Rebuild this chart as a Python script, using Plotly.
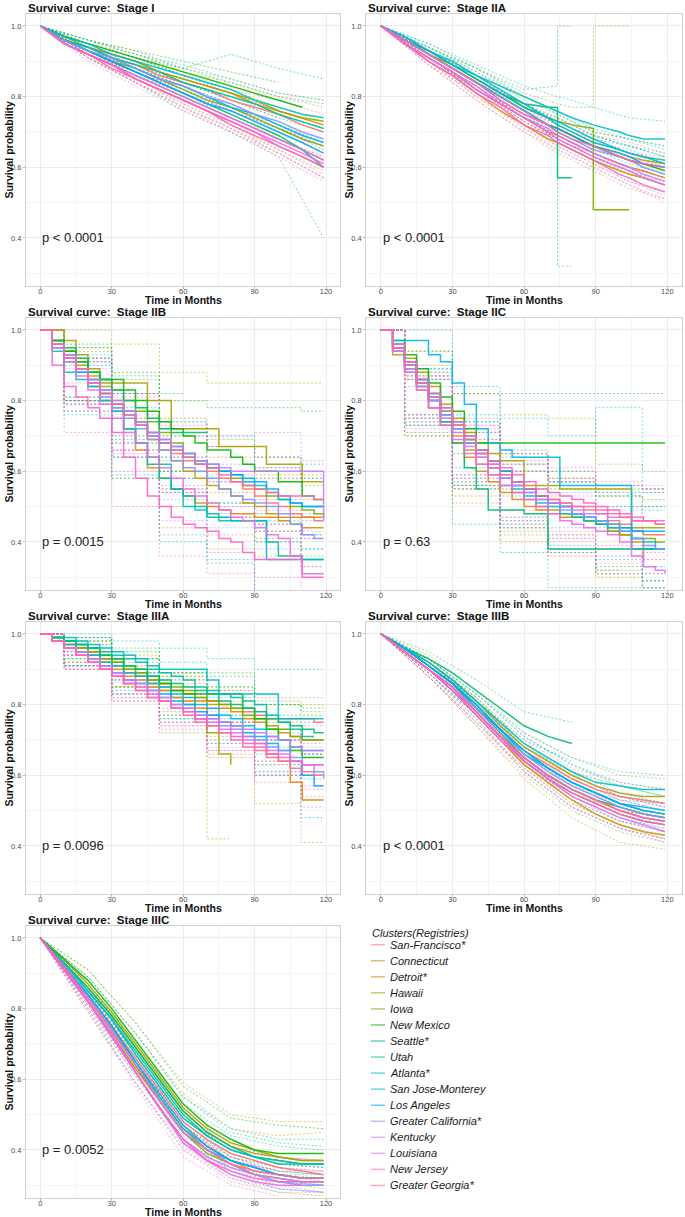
import plotly.graph_objects as go

# ---------------- data ----------------
clusters = ["San-Francisco*", "Connecticut", "Detroit*", "Hawaii", "Iowa", "New Mexico",
            "Seattle*", "Utah", "Atlanta*", "San Jose-Monterey", "Los Angeles",
            "Greater California*", "Kentucky", "Louisiana", "New Jersey", "Greater Georgia*"]
colors = ["#F8766D", "#E68613", "#CD9600", "#ABA300", "#7CAE00", "#0CB702", "#00BE67", "#00C19A",
          "#00BFC4", "#00B8E7", "#00A9FF", "#8494FF", "#C77CFF", "#ED68ED", "#FF61CC", "#FF68A1"]
stages = ["Stage I", "Stage IIA", "Stage IIB", "Stage IIC", "Stage IIIA", "Stage IIIB", "Stage IIIC"]
p_values = ["p < 0.0001", "p < 0.0001", "p = 0.0015", "p = 0.63", "p = 0.0096", "p < 0.0001", "p = 0.0052"]
x_ticks = [0, 30, 60, 90, 120]
y_ticks = [0.4, 0.6, 0.8, 1.0]

# time grids (months)
t_std = [0, 10, 20, 30, 40, 50, 60, 70, 80, 90, 100, 110, 119]
t_fine = [0, 5, 10, 15, 20, 25, 30, 35, 40, 45, 50, 55, 60, 65, 70, 75, 80, 85, 90, 95, 100, 105, 110, 115, 119]
t_ci = [0, 20, 40, 60, 80, 100, 119]
t_IIA = [0, 10, 20, 30, 40, 50, 60, 70, 74, 74, 80, 89, 89, 100, 104, 110, 119]
t_ci_IIA = [0, 20, 40, 60, 74, 74, 80, 89, 89, 104, 119]

# survival probability (%) per cluster
surv_I = [
    [100, 96, 94, 91, 89, 86, 84, 82, 79, 77, 75, 72, 70],
    [100, 95, 92, 89, 86, 83, 80, 77, 74, 71, 68, 65, 62],
    [100, 96, 94, 92, 90, 87, 85, 83, 81, 78, 76, 74, 72],
    [100, 97, 94, 92, 90, 87, 85, 83, 81, 79, 76, 74, 73],
    [100, 96, 93, 90, 88, 85, 82, 79, 77, 74, 71, 68, 66],
    [100, 97, 95, 93, 91, 89, 87, 85, 83, 81, 79, 77, None],
    [100, 96, 93, 90, 87, 84, 81, 78, 75, 72, 69, 65, 60],
    [100, 96, 94, 91, 89, 87, 84, 82, 80, 78, 75, 73, 71],
    [100, 97, 95, 92, 90, 88, 86, 84, 82, 79, 77, 75, 74],
    [100, 96, 94, 91, 88, 85, 83, 80, 77, 75, 72, 69, 67],
    [100, 96, 93, 90, 87, 84, 81, 78, 76, 73, 70, 67, 64],
    [100, 96, 93, 91, 88, 85, 83, 80, 78, 75, 73, 70, 68],
    [100, 95, 92, 89, 86, 83, 80, 77, 74, 71, 68, 65, 62],
    [100, 95, 92, 89, 85, 82, 79, 76, 73, 70, 67, 64, 61],
    [100, 95, 92, 89, 85, 82, 79, 76, 73, 70, 66, 63, 60],
    [100, 95, 92, 88, 85, 82, 79, 76, 72, 69, 66, 63, 60],
]
lo_I = [
    [100, 93, 87, 82, 76, 71, 65], [100, 91, 84, 77, 71, 64, 57], [100, 93, 88, 83, 78, 72, 67],
    [100, 92, 87, 82, 77, 71, 67], [100, 91, 85, 78, 72, 65, 59], [100, 93, 89, 84, 79, 74, None],
    [100, 91, 84, 76, 70, 63, 40], [100, 92, 87, 81, 76, 70, 64], [100, 94, 88, 84, 79, 74, 70],
    [100, 92, 86, 80, 74, 68, 62], [100, 92, 86, 80, 74, 68, 62], [100, 92, 87, 81, 76, 71, 65],
    [100, 91, 84, 78, 71, 65, 58], [100, 90, 83, 76, 70, 63, 56], [100, 91, 84, 77, 71, 64, 57],
    [100, 91, 84, 77, 70, 64, 57],
]
hi_I = [
    [100, 95, 91, 86, 82, 79, 75], [100, 93, 88, 83, 77, 72, 67], [100, 95, 92, 87, 84, 80, 77],
    [100, 96, 93, 88, 85, 81, 79], [100, 95, 91, 86, 82, 77, 73], [100, 96, 93, 90, 87, 84, None],
    [100, 95, 91, 88, 92, 88, 85], [100, 96, 92, 88, 84, 80, 78], [100, 96, 92, 89, 85, 81, 79],
    [100, 95, 91, 86, 81, 76, 72], [100, 94, 88, 83, 78, 72, 67], [100, 94, 89, 84, 80, 75, 71],
    [100, 93, 88, 82, 77, 71, 66], [100, 94, 87, 82, 76, 71, 66], [100, 93, 86, 81, 75, 68, 63],
    [100, 93, 86, 81, 74, 68, 63],
]

surv_IIA = [
    [100, 96, 92, 88, 84, 79, 75, 72, 71, 71, 69, 66, 66, 63, 62, 61, 60],
    [100, 95, 91, 87, 82, 78, 74, 70, 69, 69, 67, 64, 64, 61, 60, 59, 57],
    [100, 95, 90, 86, 81, 76, 72, 68, 67, 67, 65, 62, 62, 59, 58, 57, 55],
    [100, 96, 92, 88, 84, 80, 76, 72, 71, 71, 69, 66, 66, 64, 63, 62, 61],
    [100, 96, 92, 89, 85, 81, 77, 74, 73, 73, 72, 71, 48, 48, 48, None, None],
    [100, 96, 92, 88, 84, 80, 76, 72, 71, 71, 69, 66, 66, 63, 62, 61, 59],
    [100, 96, 93, 89, 85, 81, 78, 77, 77, 57, 57, None, None, None, None, None, None],
    [100, 96, 93, 89, 85, 81, 77, 74, 72, 72, 70, 67, 67, 65, 64, 63, 62],
    [100, 97, 93, 90, 86, 83, 80, 77, 76, 76, 74, 72, 72, 70, 69, 68, 68],
    [100, 97, 93, 89, 86, 82, 78, 74, 73, 73, 71, 68, 68, 65, 64, 63, 61],
    [100, 96, 92, 88, 84, 80, 76, 72, 71, 71, 69, 66, 66, 64, 63, 61, 60],
    [100, 96, 92, 88, 84, 80, 76, 72, 70, 70, 68, 65, 65, 63, 62, 60, 58],
    [100, 95, 91, 87, 83, 78, 74, 71, 69, 69, 67, 64, 64, 61, 60, 58, 56],
    [100, 95, 91, 87, 82, 78, 74, 70, 68, 68, 66, 63, 63, 60, 59, 57, 55],
    [100, 95, 90, 86, 81, 77, 72, 69, 67, 67, 65, 62, 62, 58, 57, 55, 53],
    [100, 96, 92, 88, 84, 79, 75, 72, 70, 70, 68, 66, 66, 63, 62, 61, 60],
]
lo_IIA = [
    [100, 91, 82, 73, 68, 68, 66, 63, 63, 59, 56], [100, 90, 80, 72, 66, 66, 64, 61, 61, 56, 53],
    [100, 89, 79, 70, 64, 64, 62, 59, 59, 54, 51], [100, 90, 81, 73, 67, 67, 65, 62, 62, 58, 56],
    [100, 90, 82, 73, 68, 68, 66, 65, None, None, None], [100, 91, 82, 74, 68, 68, 66, 63, 63, 58, 55],
    [100, 91, 82, 74, 71, 32, 32, None, None, None, None], [100, 91, 83, 74, 69, 69, 67, 64, 64, 60, 57],
    [100, 92, 84, 78, 73, 73, 71, 69, 69, 66, 64], [100, 92, 84, 76, 70, 70, 68, 65, 65, 61, 58],
    [100, 91, 83, 74, 69, 69, 67, 64, 64, 60, 57], [100, 91, 83, 74, 68, 68, 66, 63, 63, 59, 55],
    [100, 89, 81, 71, 66, 66, 64, 61, 61, 56, 52], [100, 90, 80, 71, 65, 65, 63, 60, 60, 55, 50],
    [100, 89, 79, 70, 65, 65, 63, 60, 60, 55, 51], [100, 91, 82, 73, 68, 68, 66, 64, 64, 60, 57],
]
hi_IIA = [
    [100, 93, 86, 77, 74, 74, 72, 69, 69, 67, 64], [100, 92, 84, 76, 72, 72, 70, 67, 67, 64, 61],
    [100, 91, 83, 74, 70, 70, 68, 65, 65, 62, 59], [100, 94, 87, 79, 75, 75, 73, 70, 70, 68, 66],
    [100, 94, 88, 81, 78, 78, 77, 77, 100, 100, None], [100, 93, 86, 78, 74, 74, 72, 69, 69, 66, 63],
    [100, 95, 88, 82, 83, 100, 100, None, None, None, None], [100, 94, 87, 80, 75, 75, 73, 70, 70, 68, 66],
    [100, 95, 89, 83, 80, 80, 79, 77, 77, 74, 73], [100, 94, 88, 80, 76, 76, 74, 71, 71, 68, 65],
    [100, 93, 85, 78, 73, 73, 71, 68, 68, 66, 63], [100, 93, 85, 78, 72, 72, 70, 67, 67, 65, 61],
    [100, 93, 85, 77, 72, 72, 70, 67, 67, 64, 60], [100, 92, 84, 77, 71, 71, 69, 66, 66, 63, 60],
    [100, 91, 83, 74, 69, 69, 67, 64, 64, 59, 55], [100, 93, 86, 77, 72, 72, 70, 68, 68, 64, 63],
]

surv_IIB = [
    [100, 95, 92, 89, 86, 82, 79, 77, 74, 71, 68, 65, 63, 62, 60, 58, 57, 55, 53, 51, 50, 48, 47, 46, 46],
    [100, 96, 93, 89, 86, 82, 78, 72, 66, 61, 58, 55, 53, 51, 50, 49, 48, 48, 47, 47, 47, 47, 47, 47, 47],
    [100, 97, 94, 90, 87, 84, 80, 76, 73, 69, 66, 63, 60, 58, 56, 55, 53, 51, 50, 48, 46, 45, 44, 44, 44],
    [100, 100, 97, 93, 89, 85, 85, 85, 85, 80, 80, 72, 72, 72, 72, 67, 67, 67, 67, 62, 62, 62, 57, 57, 57],
    [100, 97, 94, 91, 88, 86, 83, 80, 77, 74, 71, 68, 65, 63, 61, 60, 58, 56, 55, 53, 52, 50, 49, 48, 47],
    [100, 97, 94, 91, 88, 86, 86, 83, 80, 77, 74, 72, 70, 68, 66, 66, 64, 62, 60, 60, 57, 57, 53, 52, 52],
    [100, 97, 95, 92, 88, 86, 83, 80, 78, 75, 72, 71, 71, 71, 71, None, None, None, None, None, None, None, None, None, None],
    [100, 95, 91, 88, 84, 80, 77, 72, 68, 62, 58, 55, 53, 50, 48, 47, 46, 46, 46, 40, 36, 36, 35, 35, 35],
    [100, 94, 88, 86, 84, 80, 77, 72, 68, 64, 62, 55, 50, 49, 47, 46, 46, 46, 46, 35, 35, 35, 35, 35, 35],
    [100, 96, 93, 89, 86, 83, 79, 76, 73, 70, 68, 66, 64, 62, 61, 60, 59, 57, 56, 54, 52, 51, 50, 50, 50],
    [100, 96, 92, 88, 85, 82, 79, 77, 74, 71, 69, 67, 65, 63, 62, 60, 59, 58, 57, 55, 53, 51, 50, 50, 50],
    [100, 96, 93, 89, 85, 81, 78, 75, 72, 69, 66, 63, 61, 60, 58, 55, 53, 52, 51, 50, 48, 45, 42, 41, 41],
    [100, 96, 93, 89, 86, 83, 80, 77, 74, 71, 69, 67, 65, 63, 62, 61, 60, 60, 60, 60, 60, 60, 60, 60, 46],
    [100, 95, 91, 87, 83, 79, 75, 71, 68, 64, 61, 58, 55, 53, 51, 49, 47, 46, 44, 42, 41, 36, 31, 31, 31],
    [100, 90, 84, 81, 78, 75, 71, 64, 58, 53, 50, 47, 45, 44, 43, 41, 40, 37, 35, 35, 35, 35, 30, 30, 30],
    [100, 96, 92, 89, 85, 82, 79, 76, 73, 70, 68, 66, 64, 62, 61, 59, 57, 56, 55, 54, 53, 53, 53, 52, 52],
]
lo_IIB = [
    [100, 80, 66, 54, 47, 40, 35], [100, 80, 58, 44, 38, 36, 35], [100, 80, 64, 50, 42, 35, 33],
    [100, 80, 75, 60, 54, 48, 42], [100, 81, 68, 55, 47, 41, 36], [100, 80, 70, 58, 51, 43, 38],
    [100, 81, 69, 60, None, None, None], [100, 76, 58, 42, 34, 24, 22], [100, 77, 59, 40, 35, 25, 24],
    [100, 79, 64, 54, 48, 40, 38], [100, 80, 68, 58, 51, 45, 42], [100, 79, 64, 52, 44, 38, 31],
    [100, 80, 66, 56, 50, 49, 33], [100, 77, 60, 46, 37, 30, 20], [100, 71, 50, 36, 31, 25, 21],
    [100, 79, 65, 55, 47, 43, 41],
]
hi_IIB = [
    [100, 92, 82, 72, 67, 61, 58], [100, 92, 75, 63, 59, 59, 60], [100, 94, 82, 70, 64, 58, 56],
    [100, 100, 96, 88, 85, 85, 85], [100, 95, 86, 75, 69, 64, 59], [100, 96, 88, 80, 78, 78, 77],
    [100, 95, 87, 82, None, None, None], [100, 92, 78, 64, 58, 48, 48], [100, 91, 77, 60, 57, 46, 46],
    [100, 93, 82, 74, 70, 64, 62], [100, 90, 80, 72, 67, 61, 58], [100, 91, 80, 70, 62, 58, 52],
    [100, 92, 82, 74, 70, 71, 60], [100, 89, 76, 64, 57, 52, 43], [100, 85, 66, 54, 50, 45, 41],
    [100, 91, 81, 73, 67, 64, 63],
]

surv_IIC = [
    [100, 94, 89, 85, 80, 76, 72, 68, 64, 61, 58, 56, 55, 53, 52, 51, 50, 49, 48, 46, 45, 43, 42, 42, 42],
    [100, 93, 88, 83, 78, 73, 68, 64, 60, 57, 54, 52, 50, 49, 48, 47, 47, 46, 45, 44, 42, 38, 35, None, None],
    [100, 95, 90, 84, 78, 74, 70, 66, 62, 59, 56, 54, 52, 50, 49, 48, 47, 46, 45, 43, 42, 40, 38, 38, 38],
    [100, 96, 92, 88, 84, 79, 75, 71, 68, 65, 63, 63, 56, 56, 56, 55, 55, 55, 55, 55, 55, 44, 44, 44, 44],
    [100, 95, 91, 86, 82, 77, 73, 69, 66, 63, 60, 57, 55, 53, 51, 50, 48, 46, 45, 43, 42, 41, 41, 40, 40],
    [100, 97, 93, 89, 85, 81, 77, 72, 68, 68, 68, 68, 68, 68, 68, 68, 68, 68, 68, 68, 68, 68, 68, 68, 68],
    [100, 95, 90, 85, 80, 74, 68, 61, 55, 49, 49, 49, 48, 48, 38, 38, 38, 38, 38, 38, 38, 38, 38, 38, 38],
    [100, 95, 90, 86, 81, 77, 73, 69, 66, 63, 60, 57, 55, 53, 51, 50, 48, 47, 46, 45, 44, 43, 43, None, None],
    [100, 94, 89, 84, 80, 76, 72, 68, 65, 61, 58, 55, 53, 51, 50, 48, 47, 46, 45, 44, 43, 41, 40, 38, 38],
    [100, 97, 97, 97, 93, 91, 85, 79, 72, 68, 66, 64, 64, 64, 64, 56, 56, 56, 56, 56, 56, 38, 38, 38, 38],
    [100, 96, 91, 86, 82, 78, 74, 70, 66, 63, 60, 57, 55, 53, 51, 50, 48, 47, 46, 45, 44, 43, 43, 43, 43],
    [100, 95, 90, 85, 81, 76, 72, 68, 65, 62, 59, 56, 54, 52, 51, 49, 48, 47, 46, 45, 43, 41, 39, 38, 38],
    [100, 94, 89, 84, 80, 75, 71, 67, 64, 61, 58, 56, 54, 52, 51, 50, 49, 48, 48, 47, 47, 46, 46, 45, 45],
    [100, 94, 88, 83, 78, 73, 69, 65, 62, 59, 56, 54, 52, 50, 48, 46, 45, 44, 43, 42, 40, 36, 33, 32, 31],
    [100, 96, 91, 86, 82, 78, 74, 70, 66, 63, 61, 59, 57, 55, 54, 53, 52, 51, 50, 49, 48, 47, 46, 46, 46],
    [100, 95, 90, 85, 81, 77, 73, 69, 65, 62, 59, 57, 55, 53, 52, 51, 50, 50, 49, 48, 47, 46, 46, 45, 45],
]
lo_IIC = [
    [100, 73, 55, 45, 40, 34, 31], [100, 70, 51, 40, 36, 31, None], [100, 70, 53, 42, 37, 31, 27],
    [100, 75, 56, 43, 42, 30, 29], [100, 74, 57, 45, 38, 32, 29], [100, 76, 55, 55, 55, 55, 55],
    [100, 71, 45, 37, 27, 27, 27], [100, 73, 56, 44, 37, 32, None], [100, 73, 56, 44, 38, 33, 29],
    [100, 86, 61, 53, 44, 44, 27], [100, 75, 58, 46, 39, 35, 33], [100, 76, 59, 47, 41, 36, 31],
    [100, 74, 57, 46, 41, 38, 35], [100, 72, 55, 44, 37, 31, 22], [100, 76, 59, 49, 43, 39, 37],
    [100, 75, 58, 47, 42, 38, 35],
]
hi_IIC = [
    [100, 87, 73, 65, 60, 56, 54], [100, 86, 69, 60, 58, 54, None], [100, 86, 71, 62, 57, 53, 50],
    [100, 94, 82, 76, 75, 62, 60], [100, 90, 75, 65, 58, 53, 52], [100, 94, 82, 82, 82, 82, 82],
    [100, 88, 65, 60, 50, 50, 50], [100, 89, 76, 66, 60, 56, None], [100, 87, 74, 62, 57, 53, 49],
    [100, 100, 84, 75, 70, 78, 55], [100, 89, 74, 64, 57, 54, 54], [100, 86, 71, 60, 54, 50, 46],
    [100, 86, 71, 62, 57, 56, 55], [100, 84, 69, 60, 53, 49, 42], [100, 88, 73, 65, 61, 57, 56],
    [100, 87, 72, 63, 58, 56, 55],
]

surv_IIIA = [
    [100, 98, 97, 95, 94, 92, 91, 89, 88, 86, 85, 84, 83, 82, 81, 80, 79, 78, 77, 76, 76, 76, 76, 75, 75],
    [100, 98, 97, 95, 94, 92, 90, 88, 87, 85, 84, 82, 81, 79, 77, 75, 74, 71, 69, 66, 64, 58, 53, 53, 53],
    [100, 99, 98, 96, 95, 93, 92, 90, 89, 87, 86, 84, 83, 81, 80, 79, 78, 76, 75, 73, 72, 71, 70, 70, 70],
    [100, 99, 98, 96, 95, 93, 91, 89, 88, 86, 84, 82, 80, 76, 72, 66, 63, None, None, None, None, None, None, None, None],
    [100, 99, 98, 96, 95, 93, 92, 90, 89, 87, 86, 85, 84, 82, 81, 80, 79, 77, 76, 74, 73, 71, 70, 70, 70],
    [100, 99, 98, 97, 96, 94, 93, 91, 90, 88, 86, 84, 83, 83, 83, 83, 83, 79, 76, 73, 70, 67, 65, 65, 65],
    [100, 99, 98, 97, 96, 94, 93, 91, 90, 88, 87, 86, 85, 84, 83, 81, 80, 79, 78, 76, 75, 74, 73, 72, 72],
    [100, 99, 98, 97, 96, 95, 94, 93, 92, 90, 89, 88, 87, 85, 84, 83, 82, 81, 80, 77, 75, 73, 71, 71, None],
    [100, 99, 99, 98, 97, 96, 95, 94, 93, 91, 90, 90, 90, 90, 87, 83, 83, 83, 83, 83, 76, 76, 76, 76, 76],
    [100, 98, 97, 95, 94, 92, 91, 89, 88, 86, 85, 83, 82, 80, 79, 77, 76, 74, 73, 71, 70, 68, 67, 67, 67],
    [100, 98, 96, 95, 93, 91, 89, 87, 86, 84, 83, 81, 80, 78, 77, 75, 74, 72, 71, 69, 67, 64, 60, 57, 57],
    [100, 98, 96, 95, 93, 91, 89, 87, 86, 84, 82, 80, 79, 77, 76, 74, 73, 71, 70, 68, 67, 65, 63, 61, 59],
    [100, 98, 96, 95, 93, 91, 89, 87, 86, 84, 82, 80, 79, 77, 76, 75, 74, 73, 72, 71, 70, 68, 67, 67, 67],
    [100, 98, 96, 94, 92, 90, 88, 86, 84, 82, 81, 79, 78, 76, 75, 73, 72, 70, 69, 67, 66, 64, 63, 63, 63],
    [100, 98, 96, 94, 92, 90, 88, 86, 85, 83, 81, 79, 78, 76, 74, 72, 71, 69, 68, 66, 65, 64, 63, 63, 63],
    [100, 98, 96, 94, 92, 90, 88, 86, 84, 82, 81, 79, 77, 75, 74, 72, 70, 68, 67, 65, 64, 62, 61, 60, 60],
]
lo_IIIA = [
    [100, 92, 85, 79, 74, 70, 68], [100, 91, 83, 75, 66, 52, 41], [100, 92, 85, 77, 71, 63, 60],
    [100, 91, 82, 72, 42, None, None], [100, 92, 85, 78, 72, 64, 60], [100, 93, 85, 76, 75, 60, 53],
    [100, 94, 87, 81, 76, 70, 66], [100, 93, 88, 82, 75, 66, None], [100, 94, 89, 85, 77, 68, 67],
    [100, 91, 84, 77, 70, 63, 59], [100, 91, 83, 76, 69, 61, 48], [100, 91, 83, 75, 68, 61, 51],
    [100, 91, 83, 75, 69, 64, 60], [100, 90, 81, 74, 67, 60, 56], [100, 90, 82, 74, 67, 60, 57],
    [100, 90, 81, 73, 65, 58, 54],
]
hi_IIIA = [
    [100, 96, 91, 87, 84, 82, 82], [100, 97, 91, 86, 81, 75, 66], [100, 98, 93, 88, 84, 80, 80],
    [100, 99, 94, 88, 84, None, None], [100, 98, 93, 89, 85, 81, 79], [100, 99, 95, 89, 89, 80, 77],
    [100, 98, 93, 89, 85, 80, 78], [100, 99, 96, 92, 88, 83, None], [100, 100, 98, 96, 93, 90, 90],
    [100, 97, 92, 87, 82, 77, 75], [100, 95, 89, 84, 79, 73, 66], [100, 95, 89, 83, 78, 73, 67],
    [100, 95, 89, 83, 79, 76, 74], [100, 94, 87, 82, 77, 72, 70], [100, 94, 88, 82, 75, 70, 69],
    [100, 94, 87, 81, 75, 70, 66],
]

surv_IIIB = [
    [100, 96, 91, 86, 80, 73, 67, 63, 59, 56, 54, 53, 52],
    [100, 95, 90, 85, 78, 71, 65, 60, 56, 53, 50, 48, 47],
    [100, 95, 90, 84, 77, 70, 63, 58, 53, 49, 46, 44, 43],
    [100, 96, 92, 87, 81, 74, 68, 64, 60, 57, 55, 54, 54],
    [100, 95, 90, 85, 78, 71, 64, 59, 55, 52, 49, 47, 46],
    [100, 96, 91, 86, 79, 72, 65, 60, 56, 53, 51, 49, 48],
    [100, 96, 93, 89, 84, 79, 74, 71, 69, None, None, None, None],
    [100, 96, 91, 86, 80, 73, 67, 62, 58, 55, 52, 50, 49],
    [100, 96, 92, 87, 81, 75, 69, 65, 61, 58, 57, 56, 56],
    [100, 96, 91, 86, 80, 73, 67, 62, 58, 55, 52, 51, 50],
    [100, 96, 91, 86, 79, 73, 66, 62, 58, 55, 52, 50, 49],
    [100, 95, 90, 85, 79, 72, 66, 61, 57, 54, 51, 49, 48],
    [100, 95, 90, 85, 78, 71, 65, 60, 56, 53, 50, 48, 47],
    [100, 95, 90, 84, 77, 70, 64, 59, 54, 51, 48, 46, 44],
    [100, 95, 90, 84, 78, 71, 64, 59, 55, 52, 49, 47, 46],
    [100, 95, 90, 85, 78, 71, 65, 60, 56, 53, 50, 48, 47],
]
lo_IIIB = [
    [100, 90, 78, 64, 56, 50, 48], [100, 88, 75, 62, 52, 46, 42], [100, 88, 74, 59, 48, 41, 39],
    [100, 90, 78, 64, 55, 50, 48], [100, 88, 74, 60, 50, 44, 41], [100, 89, 76, 61, 51, 45, 42],
    [100, 91, 81, 70, 64, None, None], [100, 89, 77, 63, 54, 47, 44], [100, 91, 79, 66, 57, 53, 52],
    [100, 89, 77, 63, 53, 47, 45], [100, 90, 77, 64, 55, 49, 46], [100, 89, 77, 63, 54, 48, 45],
    [100, 88, 75, 62, 52, 46, 43], [100, 89, 75, 61, 51, 45, 41], [100, 88, 75, 61, 51, 45, 42],
    [100, 89, 76, 62, 53, 47, 44],
]
hi_IIIB = [
    [100, 92, 82, 70, 62, 58, 56], [100, 92, 81, 68, 60, 54, 52], [100, 92, 80, 67, 58, 51, 48],
    [100, 94, 84, 72, 65, 60, 59], [100, 92, 82, 68, 60, 54, 51], [100, 93, 82, 69, 61, 57, 54],
    [100, 95, 87, 78, 75, None, None], [100, 93, 83, 71, 63, 57, 54], [100, 93, 83, 72, 65, 61, 60],
    [100, 93, 83, 71, 63, 58, 56], [100, 92, 81, 68, 61, 55, 52], [100, 91, 81, 69, 60, 54, 51],
    [100, 92, 81, 68, 60, 54, 51], [100, 91, 79, 67, 57, 51, 48], [100, 92, 81, 67, 59, 53, 50],
    [100, 91, 80, 68, 59, 53, 50],
]

surv_IIIC = [
    [100, 92, 84, 75, 66, 57, 48, 43, 39, 37, 35, 34, 33],
    [100, 92, 83, 74, 64, 55, 46, 41, 37, 34, 33, 32, 32],
    [100, 93, 86, 78, 69, 60, 51, 45, 41, 39, 38, 37, 37],
    [100, 94, 87, 79, 70, 61, 52, 46, 42, 40, 38, 37, 37],
    [100, 91, 82, 73, 63, 54, 45, 39, 36, 33, 32, 31, 31],
    [100, 94, 88, 80, 71, 62, 53, 47, 43, 40, 39, 39, 39],
    [100, 93, 86, 78, 69, 60, 51, 45, 41, 38, 37, 36, 36],
    [100, 93, 85, 77, 68, 59, 50, 44, 40, 38, 36, 36, 36],
    [100, 93, 85, 77, 67, 58, 49, 44, 40, 38, 37, 36, 36],
    [100, 92, 84, 75, 65, 55, 46, 40, 37, 35, 33, 32, 32],
    [100, 92, 84, 75, 65, 56, 47, 41, 37, 35, 33, 32, 32],
    [100, 91, 83, 74, 64, 54, 45, 40, 36, 33, 31, 30, 30],
    [100, 91, 82, 72, 62, 52, 43, 38, 35, 33, 32, 31, 31],
    [100, 91, 82, 72, 62, 52, 42, 37, 33, 31, 30, 30, None],
    [100, 91, 82, 73, 62, 52, 43, 37, 34, 32, 31, 31, 31],
    [100, 92, 83, 74, 64, 54, 45, 40, 36, 34, 33, 32, 32],
]
lo_IIIC = [
    [100, 82, 63, 45, 36, 32, 30], [100, 80, 61, 43, 34, 30, 28], [100, 83, 65, 47, 37, 33, 32],
    [100, 83, 65, 46, 36, 31, 29], [100, 79, 59, 41, 32, 28, 27], [100, 85, 67, 48, 38, 34, 33],
    [100, 83, 65, 47, 37, 33, 31], [100, 82, 63, 45, 35, 31, 30], [100, 83, 64, 46, 37, 34, 33],
    [100, 81, 61, 42, 33, 29, 28], [100, 82, 63, 44, 35, 31, 30], [100, 81, 62, 43, 34, 29, 28],
    [100, 80, 59, 40, 32, 29, 28], [100, 79, 58, 38, 30, 27, None], [100, 80, 59, 40, 31, 28, 28],
    [100, 81, 62, 43, 34, 31, 30],
]
hi_IIIC = [
    [100, 86, 69, 51, 42, 38, 37], [100, 86, 67, 49, 40, 36, 35], [100, 89, 73, 56, 46, 44, 45],
    [100, 91, 76, 59, 50, 48, 48], [100, 85, 67, 49, 40, 36, 35], [100, 91, 76, 58, 49, 47, 46],
    [100, 89, 73, 55, 45, 42, 41], [100, 89, 73, 55, 46, 43, 43], [100, 87, 70, 53, 44, 41, 40],
    [100, 87, 69, 50, 41, 38, 37], [100, 86, 67, 49, 40, 36, 35], [100, 85, 66, 47, 38, 33, 33],
    [100, 84, 65, 46, 38, 35, 34], [100, 85, 66, 46, 37, 34, None], [100, 84, 65, 46, 37, 34, 34],
    [100, 85, 66, 47, 38, 35, 34],
]

# (survival times, survival, ci times, lower, upper, survival line shape, ci line shape)
panels = [
    (t_std, surv_I, t_ci, lo_I, hi_I, "linear", "linear"),
    (t_IIA, surv_IIA, t_ci_IIA, lo_IIA, hi_IIA, "linear", "linear"),
    (t_fine, surv_IIB, t_ci, lo_IIB, hi_IIB, "hv", "hvh"),
    (t_fine, surv_IIC, t_ci, lo_IIC, hi_IIC, "hv", "hvh"),
    (t_fine, surv_IIIA, t_ci, lo_IIIA, hi_IIIA, "hv", "hvh"),
    (t_std, surv_IIIB, t_ci, lo_IIIB, hi_IIIB, "linear", "linear"),
    (t_std, surv_IIIC, t_ci, lo_IIIC, hi_IIIC, "linear", "linear"),
]

# ---------------- helpers ----------------
W, H = 685, 1217
FONT = "Liberation Sans, Arial, Helvetica, sans-serif"


def rgba(hx, a):
    hx = hx.lstrip("#")
    return "rgba(%d,%d,%d,%.2f)" % (int(hx[0:2], 16), int(hx[2:4], 16), int(hx[4:6], 16), a)


def frac(vals):
    return [None if v is None else v / 100.0 for v in vals]


def px_x(x):
    return x / W


def px_y(y):
    return 1 - y / H


col_px = [(26.0, 340.3), (366.4, 681.7)]
ROW_TOP, ROW_BOT, ROW_STEP = 13.6, 285.6, 304.0

fig = go.Figure()
layout = dict(width=W, height=H, margin=dict(l=0, r=0, t=0, b=0), paper_bgcolor="white",
              plot_bgcolor="white", showlegend=False, font=dict(family=FONT, color="#1a1a1a"))
annotations = []
shapes = []

for i, (t_s, surv, t_c, lo, hi, shape, ci_shape) in enumerate(panels):
    r, c = divmod(i, 2)
    xa = "x" if i == 0 else "x%d" % (i + 1)
    ya = "y" if i == 0 else "y%d" % (i + 1)
    xl, xr = col_px[c]
    yt, yb = ROW_TOP + ROW_STEP * r, ROW_BOT + ROW_STEP * r
    # confidence limits (dotted)
    for k in range(len(clusters)):
        for band in (lo[k], hi[k]):
            fig.add_trace(go.Scatter(x=t_c, y=frac(band), mode="lines", xaxis=xa, yaxis=ya,
                                     line=dict(color=rgba(colors[k], 0.55), width=1, dash="2px,2px",
                                               shape=ci_shape),
                                     hoverinfo="skip", showlegend=False))
    # survival curves (solid)
    for k in range(len(clusters)):
        fig.add_trace(go.Scatter(x=t_s, y=frac(surv[k]), mode="lines", xaxis=xa, yaxis=ya,
                                 name=clusters[k],
                                 line=dict(color=rgba(colors[k], 0.9), width=1.5, shape=shape),
                                 showlegend=False))
    axis_common = dict(showgrid=True, gridcolor="#ebebeb", gridwidth=0.8, zeroline=False,
                       showline=True, mirror=True, linecolor="#cfcfcf", linewidth=1.3,
                       ticks="outside", ticklen=2, tickwidth=0.8, tickcolor="#b5b5b5",
                       tickfont=dict(size=7.5, color="#4d4d4d", family=FONT))
    layout["xaxis" if i == 0 else "xaxis%d" % (i + 1)] = dict(
        domain=[px_x(xl), px_x(xr)], range=[-6, 126], anchor=ya, tickvals=x_ticks,
        ticklabelstandoff=-4,
        minor=dict(tickvals=[15, 45, 75, 105], showgrid=True, gridcolor="#f4f4f4", gridwidth=0.6),
        **axis_common)
    layout["yaxis" if i == 0 else "yaxis%d" % (i + 1)] = dict(
        domain=[px_y(yb), px_y(yt)], range=[0.265, 1.035], anchor=xa, tickvals=y_ticks,
        ticktext=["%.1f" % v for v in y_ticks],
        minor=dict(tickvals=[0.3, 0.5, 0.7, 0.9], showgrid=True, gridcolor="#f4f4f4", gridwidth=0.6),
        **axis_common)
    # panel title
    annotations.append(dict(text="<b>Survival curve:\u00a0 %s</b>" % stages[i], xref="paper", yref="paper",
                            x=px_x(xl), y=px_y(8 + ROW_STEP * r), xanchor="left", yanchor="middle",
                            showarrow=False, font=dict(size=11.5, color="#111111", family=FONT)))
    # x title
    annotations.append(dict(text="<b>Time in Months</b>", xref="paper", yref="paper",
                            x=px_x((xl + xr) / 2), y=px_y(299.5 + ROW_STEP * r), xanchor="center",
                            yanchor="middle", showarrow=False, font=dict(size=10.5, color="#111111", family=FONT)))
    # y title
    annotations.append(dict(text="<b>Survival probability</b>", xref="paper", yref="paper",
                            x=px_x(9 if c == 0 else 349), y=px_y((yt + yb) / 2), xanchor="center",
                            yanchor="middle", textangle=-90, showarrow=False,
                            font=dict(size=10.5, color="#111111", family=FONT)))
    # p-value
    annotations.append(dict(text=p_values[i], xref=xa, yref=ya, x=0, y=0.4, xanchor="left",
                            yanchor="middle", showarrow=False, font=dict(size=13, color="#222222", family=FONT)))

# legend (drawn in the empty eighth cell)
annotations.append(dict(text="<i>Clusters(Registries)</i>", xref="paper", yref="paper", x=px_x(370),
                        y=px_y(932.5), xanchor="left", yanchor="middle", showarrow=False,
                        font=dict(size=11, color="#1a1a1a", family=FONT)))
for k, name in enumerate(clusters):
    yy = px_y(944.7 + 16.05 * k)
    shapes.append(dict(type="line", xref="paper", yref="paper", x0=px_x(371), x1=px_x(385), y0=yy, y1=yy,
                       line=dict(color=rgba(colors[k], 0.6), width=1.5)))
    annotations.append(dict(text="<i>%s</i>" % name, xref="paper", yref="paper", x=px_x(387.5), y=yy,
                            xanchor="left", yanchor="middle", showarrow=False,
                            font=dict(size=11, color="#1a1a1a", family=FONT)))

layout["annotations"] = annotations
layout["shapes"] = shapes
fig.update_layout(**layout)
fig.write_html("out.html", config={"displayModeBar": False},
               post_script="document.body.style.margin='0';document.body.style.overflow='hidden';")
